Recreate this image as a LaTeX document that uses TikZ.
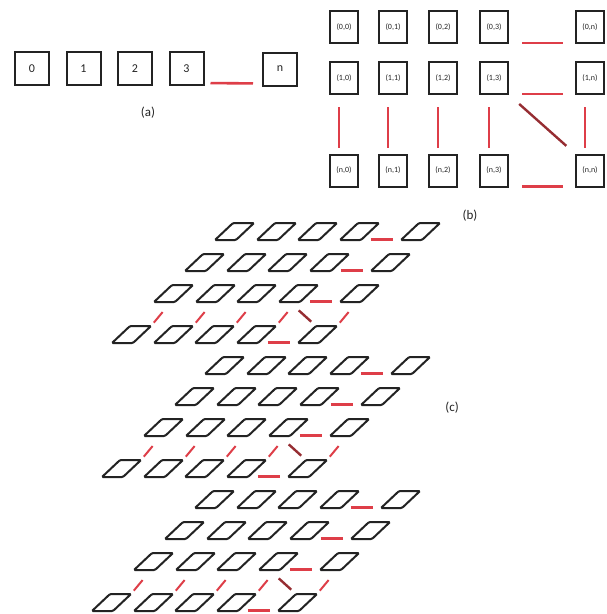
\documentclass[tikz,border=0pt]{standalone}
\usepackage{fontspec}
\setmainfont{Carlito}
\usetikzlibrary{calc}
\definecolor{ink}{RGB}{35,35,35}
\definecolor{linkred}{RGB}{222,62,72}
\definecolor{diagred}{RGB}{150,45,50}
\begin{document}
\begin{tikzpicture}[x=1pt,y=-1pt,
  cell/.style={draw=ink, line width=2pt, inner sep=0pt, outer sep=0pt, text=ink},
  acell/.style={minimum width=34pt, minimum height=33pt, font=\fontsize{12}{12}\selectfont},
  bcell/.style={minimum width=28pt, minimum height=32pt, font=\fontsize{8}{8}\selectfont},
  para/.style={draw=ink, line width=2pt, rounded corners=1.2pt, minimum width=21pt,
    minimum height=17pt, inner sep=0pt, outer sep=0pt, xslant=1.06},
  link/.style={draw=linkred, line width=2.6pt},
  slash/.style={draw=linkred, line width=2pt},
  diag/.style={draw=diagred, line width=2.4pt},
  caption/.style={font=\fontsize{13}{13}\selectfont, text=ink}]
\useasboundingbox (0,0) rectangle (606,614);
\fill[white] (0,0) rectangle (606,614);

% (a) one-dimensional array
\node[cell,acell] (a0) at (32,68.5) {0};
\node[cell,acell] (a1) at (83.5,68.5) {1};
\node[cell,acell] (a2) at (135,68.5) {2};
\node[cell,acell] (a3) at (186.5,68.5) {3};
\node[cell,acell] (an) at (280,69) {n};
\draw[link, shorten <=7pt, shorten >=10pt] ([yshift=2pt]a3.south east) -- ([yshift=2pt]an.south west);
\node[caption] (la) at (148,113) {(a)};

% (b) two-dimensional array
\foreach \r/\y/\t in {0/27/0, 1/78/1, 2/170.5/n}
  \foreach \c/\x/\u in {0/344/0, 1/393/1, 2/443/2, 3/494/3, 4/590/n}
    \node[cell,bcell] (b\r\c) at (\x,\y) {(\t,\u)};
\foreach \r in {0,1,2}
  \draw[link, shorten <=14pt, shorten >=13pt] (b\r3.south east) -- (b\r4.south west);
\foreach \c in {0,...,4}
  \draw[link, shorten <=13pt, shorten >=7pt] ([xshift=-5pt]b1\c.south) -- ([xshift=-5pt]b2\c.north);
\draw[diag, shorten <=15pt, shorten >=13pt] (b13.south east) -- (b24.north west);
\node[caption] (lb) at (470,216) {(b)};

% (c) three-dimensional array: three stacked planes
\foreach \g in {0,1,2} {
  \foreach \r/\dx/\dy in {0/0/0, 1/-30/31, 2/-61/62, 3/-103/103} {
    \foreach \c/\cx in {1/-125, 2/-83, 3/-42, 4/0, 5/61}
      \node[para] (p\g\r\c) at ({340-10*\g+\dx+\cx+19.5},{240+134*\g+\dy-8.5}) {};
    \draw[link, shorten <=10pt, shorten >=8pt] ([yshift=0.5pt]p\g\r4.south east) -- ([yshift=0.5pt]p\g\r5.south west);
  }
  \foreach \c in {1,...,5} {
    \coordinate (s\g\c) at ($(p\g2\c.south west)!0.81!(p\g2\c.south east)$);
    \draw[slash] ($(s\g\c)!0.42!(p\g3\c.north east)$) -- ($(s\g\c)!0.86!(p\g3\c.north east)$);
  }
  \coordinate (d\g) at (p\g24.south);
  \draw[diag] ($(d\g)!0.35!(p\g35.north west)$) -- ($(d\g)!0.82!(p\g35.north west)$);
}
\node[caption] (lc) at (452,408) {(c)};
\end{tikzpicture}
\end{document}
